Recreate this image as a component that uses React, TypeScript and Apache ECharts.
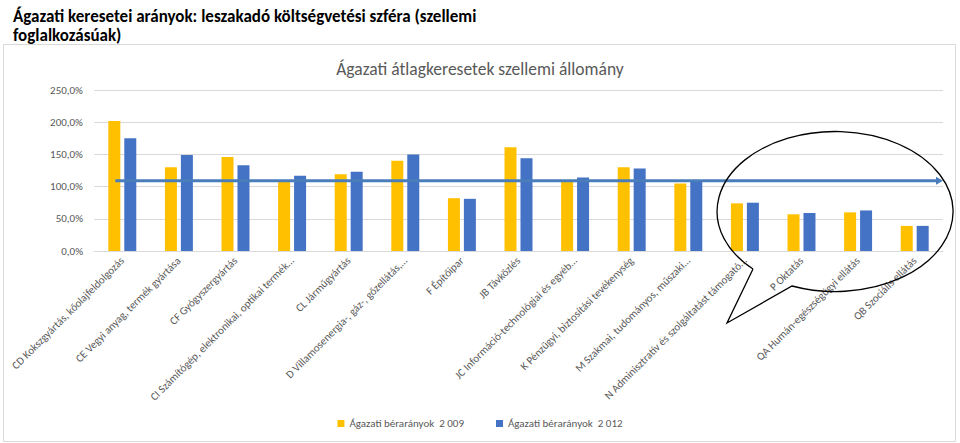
import React, { useEffect, useRef } from "react";
import * as echarts from "echarts";

const categories = [
  "CD Kokszgyártás, kőolajfeldolgozás",
  "CE Vegyi anyag, termék gyártása",
  "CF Gyógyszergyártás",
  "CI Számítógép, elektronikai, optikai termék…",
  "CL Járműgyártás",
  "D Villamosenergia-, gáz-, gőzellátás,…",
  "F Építőipar",
  "JB Távközlés",
  "JC Információ-technológiai és egyéb…",
  "K Pénzügyi, biztosítási tevékenység",
  "M Szakmai, tudományos, műszaki…",
  "N Adminisztratív és szolgáltatást támogató…",
  "P Oktatás",
  "QA Humán-egészségügyi ellátás",
  "QB Szociális ellátás",
];

const values2009 = [202, 130, 146, 109, 119, 140, 82, 161, 110, 130, 105, 74, 57, 60, 39];
const values2012 = [175, 149, 133, 117, 123, 150, 81, 144, 114, 128, 110, 75, 59, 63, 39];

const seriesNames = ["Ágazati bérarányok  2 009", "Ágazati bérarányok  2 012"];
const averageLevel = 109;

const pageTitle = "Ágazati keresetei arányok: leszakadó költségvetési szféra (szellemi\nfoglalkozásúak)";
const chartTitle = "Ágazati átlagkeresetek szellemi állomány";

const FONT = "Carlito, 'Liberation Sans Narrow', Lato, sans-serif";

echarts.graphic.registerShape(
  "bubble",
  echarts.graphic.extendPath("M 753 269 L 727 323 L 792 286 A 118 80 0 1 0 753 269", {})
);

export default function App() {
  const ref = useRef<HTMLDivElement>(null);
  useEffect(() => {
    if (!ref.current) return;
    const chart = echarts.init(ref.current, undefined, { renderer: "svg" });
    const option: any = {
      animation: false,
      backgroundColor: "#ffffff",
      title: [
        {
          text: pageTitle,
          left: 8,
          top: 2,
          textStyle: { fontFamily: FONT, fontSize: 17, fontWeight: "bold", color: "#000", lineHeight: 19 },
        },
        {
          text: chartTitle,
          left: "center",
          top: 55,
          textStyle: { fontFamily: FONT, fontSize: 17.5, fontWeight: "normal", color: "#595959" },
        },
      ],
      legend: {
        bottom: 9,
        left: "center",
        icon: "rect",
        itemWidth: 7,
        itemHeight: 7,
        itemGap: 32,
        textStyle: { fontFamily: FONT, fontSize: 11, color: "#595959" },
        data: seriesNames,
      },
      grid: { left: 94, right: 17, top: 90, bottom: 192 },
      xAxis: {
        type: "category",
        data: categories,
        axisTick: { show: false },
        axisLine: { lineStyle: { color: "#d9d9d9" } },
        axisLabel: {
          interval: 0,
          rotate: 45,
          margin: 8,
          fontFamily: FONT,
          fontSize: 11,
          color: "#595959",
        },
      },
      yAxis: {
        type: "value",
        min: 0,
        max: 250,
        interval: 50,
        axisLine: { show: false },
        axisTick: { show: false },
        splitLine: { lineStyle: { color: "#d9d9d9" } },
        axisLabel: {
          margin: 11,
          fontFamily: FONT,
          fontSize: 11,
          color: "#595959",
          formatter: (v: number) => v.toFixed(1).replace(".", ",") + "%",
        },
      },
      series: [
        {
          name: seriesNames[0],
          type: "bar",
          data: values2009,
          barWidth: 12,
          barGap: "33%",
          itemStyle: { color: "#ffc000" },
        },
        {
          name: seriesNames[1],
          type: "bar",
          data: values2012,
          barWidth: 12,
          itemStyle: { color: "#4472c4" },
        },
      ],
    };
    chart.setOption(option);

    const x0 = chart.convertToPixel({ xAxisIndex: 0 }, 0) as number;
    const x1 = chart.convertToPixel({ xAxisIndex: 0 }, 1) as number;
    const xLast = chart.convertToPixel({ xAxisIndex: 0 }, categories.length - 1) as number;
    const step = x1 - x0;
    const y = chart.convertToPixel({ yAxisIndex: 0 }, averageLevel) as number;
    const startX = x0 - 7;
    const endX = xLast + step / 2;
    const arrowColor = "#4a7ebb";

    chart.setOption({
      graphic: [
        {
          type: "rect",
          id: "frame",
          shape: { x: 3.5, y: 44.5, width: 952, height: 397 },
          style: { fill: "none", stroke: "#d9d9d9", lineWidth: 1 },
          silent: true,
        },
        {
          type: "line",
          id: "arrowLine",
          shape: { x1: startX, y1: y, x2: endX - 6, y2: y },
          style: { stroke: arrowColor, lineWidth: 3 },
          z: 10,
          silent: true,
        },
        {
          type: "polygon",
          id: "arrowHead",
          shape: { points: [[endX - 7, y - 4], [endX, y], [endX - 7, y + 4]] },
          style: { fill: arrowColor },
          z: 10,
          silent: true,
        },
        {
          type: "bubble",
          id: "bubble",
          x: 0,
          y: 0,
          style: { fill: "none", stroke: "#000", lineWidth: 1.3 },
          z: 11,
          silent: true,
        },
      ],
    });

    return () => chart.dispose();
  }, []);
  return (
    <div
      ref={ref}
      style={{ position: "absolute", left: 0, top: 0, width: 960, height: 443 }}
    />
  );
}
